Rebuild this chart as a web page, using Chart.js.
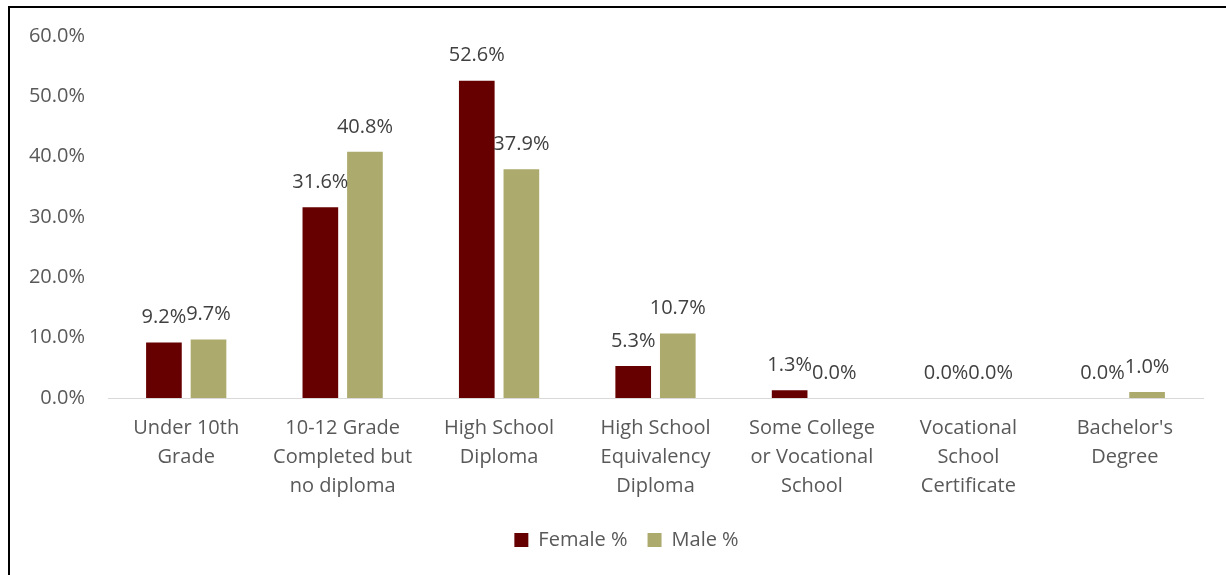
<!DOCTYPE html>
<html>
<head>
<meta charset="utf-8">
<script src="https://cdn.jsdelivr.net/npm/chart.js@4.4.1/dist/chart.umd.min.js"></script>
<style>
  html, body { margin: 0; padding: 0; background: #fff; }
  #wrap { position: relative; width: 1226px; height: 575px; }
</style>
</head>
<body>
<div id="wrap"><canvas id="c" width="1226" height="575"></canvas></div>
<script>
const categories = [
  ["Under 10th", "Grade"],
  ["10-12 Grade", "Completed but", "no diploma"],
  ["High School", "Diploma"],
  ["High School", "Equivalency", "Diploma"],
  ["Some College", "or Vocational", "School"],
  ["Vocational", "School", "Certificate"],
  ["Bachelor's", "Degree"]
];
const femaleValues = [9.2, 31.6, 52.6, 5.3, 1.3, 0.0, 0.0];
const maleValues = [9.7, 40.8, 37.9, 10.7, 0.0, 0.0, 1.0];
const seriesNames = ["Female %", "Male %"];
const yTicks = [0, 10, 20, 30, 40, 50, 60];

const FONT = "'Open Sans', 'DejaVu Sans', sans-serif";

const frameAndLabels = {
  id: 'frameAndLabels',
  afterLayout(chart) {
    if (chart.legend) {
      chart.legend.left += 15;
      chart.legend.right += 15;
    }
  },
  beforeDraw(chart) {
    const ctx = chart.ctx;
    ctx.save();
    ctx.fillStyle = '#ffffff';
    ctx.fillRect(0, 0, chart.width, chart.height);
    ctx.fillStyle = '#000000';
    ctx.fillRect(8, 6, chart.width - 8, 2);
    ctx.fillRect(8, 6, 2, chart.height - 6);
    ctx.restore();
  },
  afterDatasetsDraw(chart) {
    const ctx = chart.ctx;
    ctx.save();
    ctx.font = '20px ' + FONT;
    ctx.fillStyle = '#404040';
    ctx.textAlign = 'center';
    ctx.textBaseline = 'middle';
    chart.data.datasets.forEach((ds, di) => {
      const meta = chart.getDatasetMeta(di);
      meta.data.forEach((bar, i) => {
        const v = ds.data[i];
        ctx.fillText(v.toFixed(1) + '%', bar.x, bar.y - 25);
      });
    });
    ctx.restore();
  }
};

new Chart(document.getElementById('c'), {
  type: 'bar',
  data: {
    labels: categories,
    datasets: [
      { label: seriesNames[0], data: femaleValues, backgroundColor: '#660000', borderWidth: 0,
        categoryPercentage: 0.57, barPercentage: 0.8 },
      { label: seriesNames[1], data: maleValues, backgroundColor: '#ADAA6E', borderWidth: 0,
        categoryPercentage: 0.57, barPercentage: 0.8 }
    ]
  },
  options: {
    responsive: false,
    animation: false,
    devicePixelRatio: 1,
    layout: { padding: { left: 20, right: 23, top: 36, bottom: 15 } },
    plugins: {
      legend: {
        position: 'bottom',
        labels: {
          boxWidth: 14, boxHeight: 14, padding: 20,
          color: '#595959',
          font: { family: FONT, size: 20 }
        }
      },
      tooltip: { enabled: false }
    },
    scales: {
      x: {
        grid: { display: false, drawTicks: false },
        border: { display: true, color: '#D9D9D9', width: 1 },
        ticks: {
          color: '#595959', padding: 16, maxRotation: 0, autoSkip: false,
          font: { family: FONT, size: 20, lineHeight: 1.45 }
        },
        afterFit(scale) { scale.height = 112; }
      },
      y: {
        min: 0, max: 60,
        grid: { display: false, drawTicks: false },
        border: { display: false },
        afterBuildTicks(scale) { scale.ticks = yTicks.map(v => ({ value: v })); },
        ticks: {
          color: '#595959', padding: 23,
          font: { family: FONT, size: 20 },
          callback: v => Number(v).toFixed(1) + '%'
        },
        afterFit(scale) { scale.width = 88; }
      }
    }
  },
  plugins: [frameAndLabels]
});
</script>
</body>
</html>
